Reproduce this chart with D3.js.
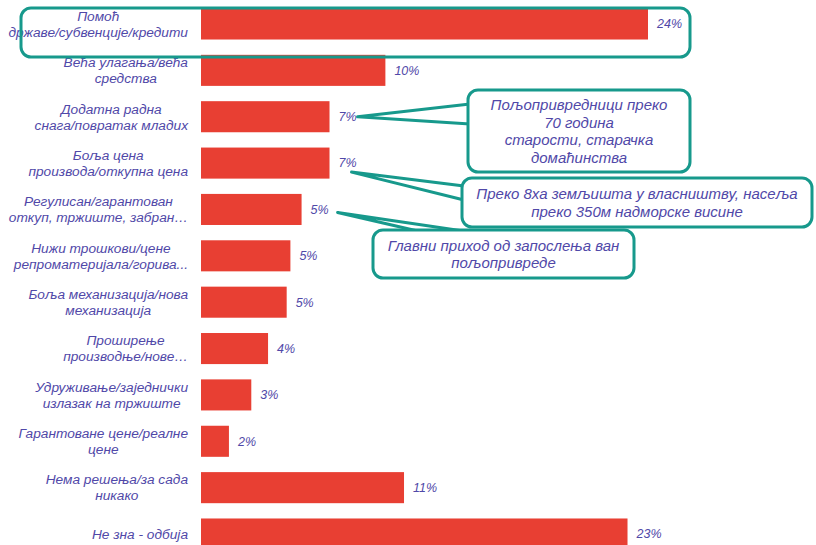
<!DOCTYPE html>
<html>
<head>
<meta charset="utf-8">
<script src="https://cdn.jsdelivr.net/npm/d3@7"></script>
<style>
    body { margin: 0; background: #fff; }
    text { font-family: "Liberation Sans", Arial, sans-serif; font-style: italic; }
</style>
</head>
<body>
<div id="chart"></div>
<script>
// categories (label lines) and shares in percent
const categories = [
    ['Помоћ', 'државе/субвенције/кредити'],
    ['Већа улагања/већа', 'средства'],
    ['Додатна радна', 'снага/повратак младих'],
    ['Боља цена', 'производа/откупна цена'],
    ['Регулисан/гарантован', 'откуп, тржиште, забран…'],
    ['Нижи трошкови/цене', 'репроматеријала/горива...'],
    ['Боља механизација/нова', 'механизација'],
    ['Проширење', 'производње/нове…'],
    ['Удруживање/заједнички', 'излазак на тржиште'],
    ['Гарантоване цене/реалне', 'цене'],
    ['Нема решења/за сада', 'никако'],
    ['Не зна - одбија']
];
const values = [24, 9.9, 6.9, 6.9, 5.4, 4.8, 4.6, 3.6, 2.7, 1.5, 10.9, 22.9];
const valueLabels = ['24%', '10%', '7%', '7%', '5%', '5%', '5%', '4%', '3%', '2%', '11%', '23%'];

// callouts: which bar they point to and their text
const callouts = [
    { bar: 2, lines: ['Пољопривредници преко', '70 година', 'старости, старачка', 'домаћинства'] },
    { bar: 3, lines: ['Преко 8ха земљишта у власништву, насеља', 'преко 350м надморске висине'] },
    { bar: 4, lines: ['Главни приход од запослења ван', 'пољопривреде'] }
];

const width = 816, height = 545;
const barColor = '#E83F33';
const textColor = '#5048A8';
const teal = '#17998C';

const svg = d3.select('#chart').append('svg')
    .attr('width', width)
    .attr('height', height);

const left = 201;
const x = d3.scaleLinear().domain([0, 24]).range([left, 648]);
const y = d3.scaleBand()
    .domain(d3.range(categories.length))
    .range([0.8, 557.2])
    .paddingInner(0.33)
    .paddingOuter(0.165);
const cy = i => y(i) + y.bandwidth() / 2;

// bars
svg.selectAll('.bar')
    .data(values)
    .enter()
    .append('rect')
    .attr('class', 'bar')
    .attr('x', x(0))
    .attr('y', (d, i) => y(i))
    .attr('width', d => x(d) - x(0))
    .attr('height', y.bandwidth())
    .attr('fill', barColor);

// value labels
svg.selectAll('.val')
    .data(values)
    .enter()
    .append('text')
    .attr('class', 'val')
    .attr('x', d => x(d) + 9)
    .attr('y', (d, i) => cy(i))
    .attr('dy', '0.35em')
    .style('font-size', '12.5px')
    .style('fill', textColor)
    .text((d, i) => valueLabels[i]);

// category labels: lines centred on each other, block right-aligned
const labelRight = 188;
categories.forEach((lines, i) => {
    const g = svg.append('g');
    const n = lines.length;
    const t = g.selectAll('text')
        .data(lines)
        .enter()
        .append('text')
        .attr('y', (d, k) => cy(i) + (k - (n - 1) / 2) * 16)
        .attr('dy', '0.35em')
        .attr('text-anchor', 'middle')
        .style('font-size', '13.7px')
        .style('fill', textColor)
        .text(d => d);
    let maxW = 0;
    t.each(function() { maxW = Math.max(maxW, this.getComputedTextLength()); });
    t.attr('x', labelRight - maxW / 2);
});

// highlight frame around the first row
svg.append('rect')
    .attr('x', 21)
    .attr('y', 8)
    .attr('width', 669)
    .attr('height', 49)
    .attr('rx', 10)
    .attr('fill', 'none')
    .attr('stroke', teal)
    .attr('stroke-width', 3);

// callout boxes with wedge pointers
const boxes = [
    { x: 468, y: 90, w: 222, h: 82, base: [[470, 104], [470, 124]], tip: [8, 0] },
    { x: 462, y: 178, w: 350, h: 49, base: [[464, 186], [464, 200]], tip: [2, 9] },
    { x: 373, y: 230, w: 261, h: 48, base: [[422, 232], [470, 232]], tip: [16, 3] }
];

callouts.forEach((c, k) => {
    const b = boxes[k];
    const tx = x(values[c.bar]) + b.tip[0] + 20;
    const ty = cy(c.bar) + b.tip[1];
    svg.append('path')
        .attr('d', `M${b.base[0][0]},${b.base[0][1]}L${tx},${ty}L${b.base[1][0]},${b.base[1][1]}`)
        .attr('fill', '#fff')
        .attr('stroke', teal)
        .attr('stroke-width', 3)
        .attr('stroke-linejoin', 'round');
    svg.append('rect')
        .attr('x', b.x)
        .attr('y', b.y)
        .attr('width', b.w)
        .attr('height', b.h)
        .attr('rx', 10)
        .attr('fill', '#fff')
        .attr('stroke', teal)
        .attr('stroke-width', 3);
    const n = c.lines.length;
    const lh = 17.5;
    svg.append('g').selectAll('text')
        .data(c.lines)
        .enter()
        .append('text')
        .attr('x', b.x + b.w / 2)
        .attr('y', (d, j) => b.y + b.h / 2 + (j - (n - 1) / 2) * lh)
        .attr('dy', '0.35em')
        .attr('text-anchor', 'middle')
        .style('font-size', '15px')
        .style('fill', textColor)
        .text(d => d);
});
</script>
</body>
</html>
